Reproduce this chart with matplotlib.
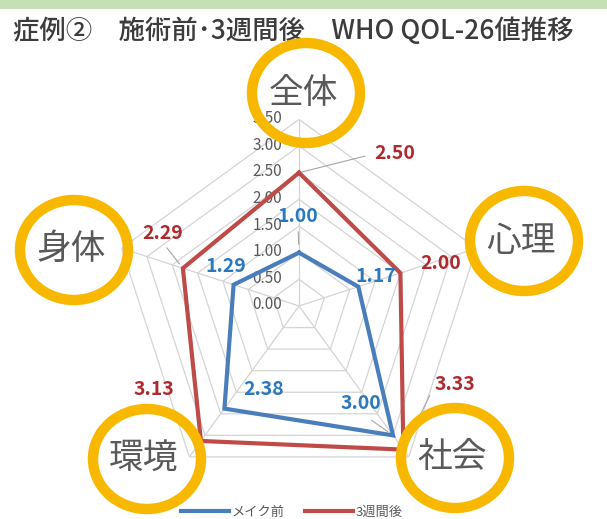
import numpy as np
import matplotlib
matplotlib.use("Agg")
import matplotlib.pyplot as plt
from matplotlib.patches import Ellipse, Rectangle

plt.rcParams['font.family'] = ['Noto Sans CJK JP', 'DejaVu Sans']

# data
categories = ['全体', '心理', '社会', '環境', '身体']
before = [1.00, 1.17, 3.00, 2.38, 1.29]
after = [2.50, 2.00, 3.33, 3.13, 2.29]
series_names = ['メイク前', '3週間後']
rticks = [0.0, 0.5, 1.0, 1.5, 2.0, 2.5, 3.0, 3.5]

W, H = 607, 519
BLUE, RED = '#4a7ebb', '#be4b48'
BLUE_TXT, RED_TXT = '#2a78bd', '#ad2a2e'
GOLD = '#f9b800'
GRAY = '#595959'


def fx(x):
    return x / W


def fy(y):
    return 1 - y / H


fig = plt.figure(figsize=(W / 100, H / 100), dpi=100)

# green band and title
fig.add_artist(Rectangle((0, fy(9)), 1, 9 / H, transform=fig.transFigure,
                         color='#c5e0b4', lw=0, zorder=0))
fig.text(fx(13), fy(31), '症例②\u3000施術前･3週間後\u3000WHO QOL-26値推移',
         fontsize=19, color='#3c3c3c', va='center', ha='left', fontweight='medium')

# radar axes, center (299,306) px, radius 186.6 px
ax = fig.add_axes([0.1852, 0.0509, 0.6148, 0.7191], projection='polar')
ax.set_theta_offset(np.pi / 2)
ax.set_theta_direction(-1)
ax.set_ylim(0, 3.5)
ax.grid(False)
ax.spines['polar'].set_visible(False)
ax.set_xticks([])
ax.set_yticks([])
ax.patch.set_alpha(0)

n = len(categories)
theta = np.arange(n) * 2 * np.pi / n
tc = np.append(theta, theta[0])

for r in rticks[1:]:
    ax.plot(tc, [r] * (n + 1), color='#d4d4d4', lw=0.9, zorder=1)
for t in theta:
    ax.plot([t, t], [0, rticks[-1]], color='#d4d4d4', lw=0.9, zorder=1)

for r in rticks:
    ax.annotate(f'{r:.2f}', xy=(0, r), xytext=(-17, 1), textcoords='offset pixels',
                ha='right', va='center', fontsize=11, color=GRAY, zorder=2)

lb, = ax.plot(tc, before + before[:1], color=BLUE, lw=3, zorder=3,
              solid_joinstyle='miter', label=series_names[0])
lr, = ax.plot(tc, after + after[:1], color=RED, lw=3, zorder=3,
              solid_joinstyle='miter', label=series_names[1])

# data labels: offsets in pixels, optional leader (relpos, shrinkA, shrinkB)
blue_off = [(-1, 36), (17, 10), (-32, 32), (39, 19), (-8, 18)]
red_off = [(96, 19), (40, 10), (52, 65), (-47, 51), (-20, 35)]
blue_lead = [((0.5, 0), 2, 6), None, ((0.5, 0), 6, 4), None, None]
red_lead = [((0, 0.5), 5, 2), None, ((0, 0.5), 4, 26), None, ((0.5, 0), 2, 4)]

for vals, offs, leads, col in [(before, blue_off, blue_lead, BLUE_TXT),
                               (after, red_off, red_lead, RED_TXT)]:
    for t, v, o, ld in zip(theta, vals, offs, leads):
        kw = {}
        if ld is not None:
            kw['arrowprops'] = dict(arrowstyle='-', color='#a6a6a6', lw=0.8,
                                    relpos=ld[0], shrinkA=ld[1], shrinkB=ld[2])
        ax.annotate(f'{v:.2f}', xy=(t, v), xytext=o, textcoords='offset pixels',
                    ha='center', va='center', fontsize=14, fontweight='bold',
                    color=col, zorder=4, **kw)

# category labels with gold rings (px positions)
ring_x = [306, 524, 455, 147, 74]
ring_y = [93, 241, 458, 459, 250]
for name, cx, cy in zip(categories, ring_x, ring_y):
    fig.add_artist(Ellipse((fx(cx), fy(cy)), 108 / W, 100 / H,
                           transform=fig.transFigure, fill=False,
                           ec=GOLD, lw=7.5, zorder=5))
    fig.text(fx(cx - 3), fy(cy), name, fontsize=25, color=GRAY,
             ha='center', va='center', zorder=6)

fig.legend(handles=[lb, lr], loc='center', bbox_to_anchor=(fx(292), fy(512)),
           ncol=2, frameon=False, fontsize=9.5, handlelength=3.6,
           handletextpad=0.2, columnspacing=1.6, labelcolor=GRAY)

fig.savefig('out.png', dpi=100)
